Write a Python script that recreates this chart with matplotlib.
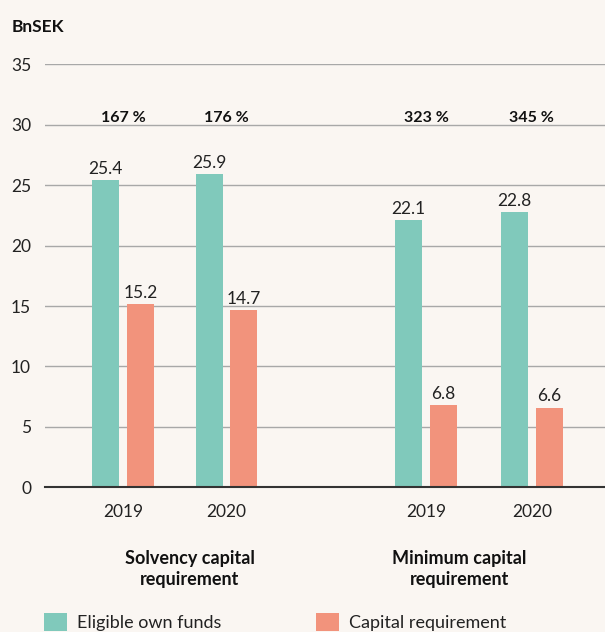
import matplotlib.pyplot as plt
import numpy as np

# data
years = ['2019', '2020', '2019', '2020']
groups = ['Solvency capital\nrequirement', 'Minimum capital\nrequirement']
own_funds = [25.4, 25.9, 22.1, 22.8]
capital_req = [15.2, 14.7, 6.8, 6.6]
ratios = ['167 %', '176 %', '323 %', '345 %']

teal = '#80c9bb'
salmon = '#f2937c'
bg = '#faf6f2'

plt.rcParams['font.family'] = ['Lato', 'DejaVu Sans']

fig = plt.figure(figsize=(6.05, 6.32), dpi=100, facecolor=bg)
ax = fig.add_axes([45 / 605, (632 - 487.3) / 632, 560 / 605, (487.3 - 64.3) / 632])
ax.set_facecolor(bg)

pos = np.array([0, 1, 2.93, 3.95])
w = 0.261
off = 0.169
b1 = ax.bar(pos - off, own_funds, w, color=teal, zorder=3, label='Eligible own funds')
b2 = ax.bar(pos + off, capital_req, w, color=salmon, zorder=3, label='Capital requirement')

for x, v in zip(pos - off, own_funds):
    ax.text(x, v + 0.5, f'{v:.1f}', ha='center', va='baseline', fontsize=12.5, color='#222222')
for x, v in zip(pos + off, capital_req):
    ax.text(x, v + 0.5, f'{v:.1f}', ha='center', va='baseline', fontsize=12.5, color='#222222')
for x, r in zip(pos, ratios):
    ax.text(x, 30.25, r, ha='center', va='baseline', fontsize=11.5, fontweight='bold', color='#111111')

ax.set_xlim(-78 / 103.5, 482 / 103.5)
ax.set_ylim(0, 35)
ax.set_yticks(range(0, 36, 5))
ax.set_xticks(pos)
ax.set_xticklabels(years, fontsize=12.5, color='#222222')
ax.tick_params(axis='x', length=0, pad=12)
ax.tick_params(axis='y', length=0, pad=10, labelsize=12.5, labelcolor='#222222')
ax.grid(axis='y', color='#a8a8a8', linewidth=1, zorder=0)
for s in ['top', 'right', 'left']:
    ax.spines[s].set_visible(False)
ax.spines['bottom'].set_color('#333333')
ax.spines['bottom'].set_linewidth(1.5)
ax.spines['bottom'].set_zorder(4)

# group labels
for cx, g in zip([0.643, 3.25], groups):
    ax.text(cx, -5.2, g, ha='center', va='top', fontsize=13, fontweight='bold',
            color='#111111', linespacing=1.3)

fig.text(12 / 605, 1 - 31.7 / 632, 'BnSEK', ha='left', va='baseline', fontsize=12.5,
         fontweight='bold', color='#111111')

fig.legend(handles=[b1, b2], loc='upper left', bbox_to_anchor=(44.4 / 605, 1 - 612.7 / 632),
           ncol=2, frameon=False, fontsize=13, handlelength=1.27, handleheight=1.2,
           columnspacing=5.26, handletextpad=0.54, borderpad=0, borderaxespad=0,
           labelcolor='#222222')

fig.savefig('out.png', dpi=100, facecolor=bg)
